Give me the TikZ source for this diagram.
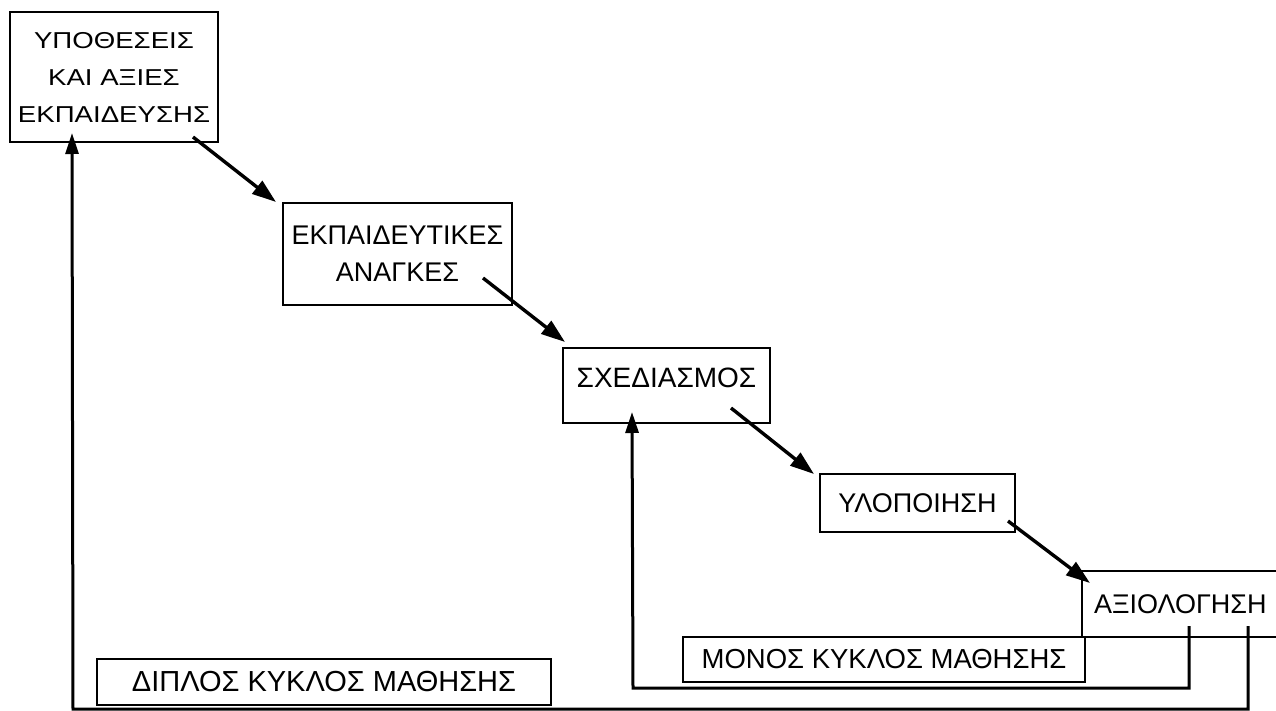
\documentclass[tikz,border=0pt]{standalone}
\usepackage{fontspec}
\setmainfont{Liberation Sans}
\newfontfamily\widefont[FakeStretch=1.2]{Liberation Sans}
\usetikzlibrary{arrows.meta,calc}
\begin{document}
\begin{tikzpicture}[x=1pt,y=-1pt,
  box/.style={draw,line width=2pt,inner sep=0pt,align=center},
  flow/.style={line width=3.4pt,-{Triangle[length=24pt,width=16pt]}},
  back/.style={line width=3pt,-{Triangle[length=21pt,width=13pt]}},
]
\useasboundingbox (0,0) rectangle (1276,711);
\clip (0,0) rectangle (1276,711);
\fill[white] (0,0) rectangle (1276,711);

% boxes
\node[box,minimum width=208pt,minimum height=130pt,
      font=\widefont\fontsize{23}{37}\selectfont] (b1) at (114,77)
      {ΥΠΟΘΕΣΕΙΣ\\ΚΑΙ ΑΞΙΕΣ\\ΕΚΠΑΙΔΕΥΣΗΣ};
\node[box,minimum width=229pt,minimum height=102pt,
      font=\fontsize{27}{37}\selectfont] (b2) at (397.5,254)
      {ΕΚΠΑΙΔΕΥΤΙΚΕΣ\\ΑΝΑΓΚΕΣ};
\node[box,minimum width=207pt,minimum height=75pt,text depth=16pt,
      font=\fontsize{28}{34}\selectfont] (b3) at (666.5,385.5) {ΣΧΕΔΙΑΣΜΟΣ};
\node[box,minimum width=195pt,minimum height=58pt,
      font=\fontsize{27}{32}\selectfont] (b4) at (917.5,503) {ΥΛΟΠΟΙΗΣΗ};
\node[box,anchor=west,minimum height=66pt,text width=207pt,align=left,
      inner xsep=12pt,font=\fontsize{27}{32}\selectfont] (b5) at (1081,604) {ΑΞΙΟΛΟΓΗΣΗ};
\node[box,minimum width=402pt,minimum height=45pt,
      font=\fontsize{27.5}{32}\selectfont] (m1) at (884,659.5)
      {ΜΟΝΟΣ ΚΥΚΛΟΣ ΜΑΘΗΣΗΣ};
\node[box,minimum width=454pt,minimum height=46pt,
      font=\fontsize{29}{32}\selectfont] (d1) at (324,682)
      {ΔΙΠΛΟΣ ΚΥΚΛΟΣ ΜΑΘΗΣΗΣ};

% forward arrows
\draw[flow] ($(b1.south east)+(-26,-6)$) -- ($(b2.north west)+(-6,0)$);
\draw[flow] ($(b2.south east)+(-30,-28)$) -- ($(b3.north west)+(3,-5)$);
\draw[flow] ($(b3.south east)+(-40,-16)$) -- ($(b4.north west)+(-5,1)$);
\draw[flow] ($(b4.south east)+(-8,-12)$) -- ($(b5.north west)+(9,13)$);

% single loop
\coordinate (i1) at ($(b5.south west)+(108,-12)$);
\coordinate (i2) at (633,688);
\coordinate (i3) at ($(b3.south west)+(70,-12)$);
\draw[back] (i1) |- (i2) -- (i3);

% double loop
\coordinate (o1) at ($(b5.south west)+(167,-12)$);
\coordinate (o2) at (73,709);
\coordinate (o3) at ($(b1.south west)+(63,-10)$);
\draw[back] (o1) |- (o2) -- (o3);
\end{tikzpicture}
\end{document}
